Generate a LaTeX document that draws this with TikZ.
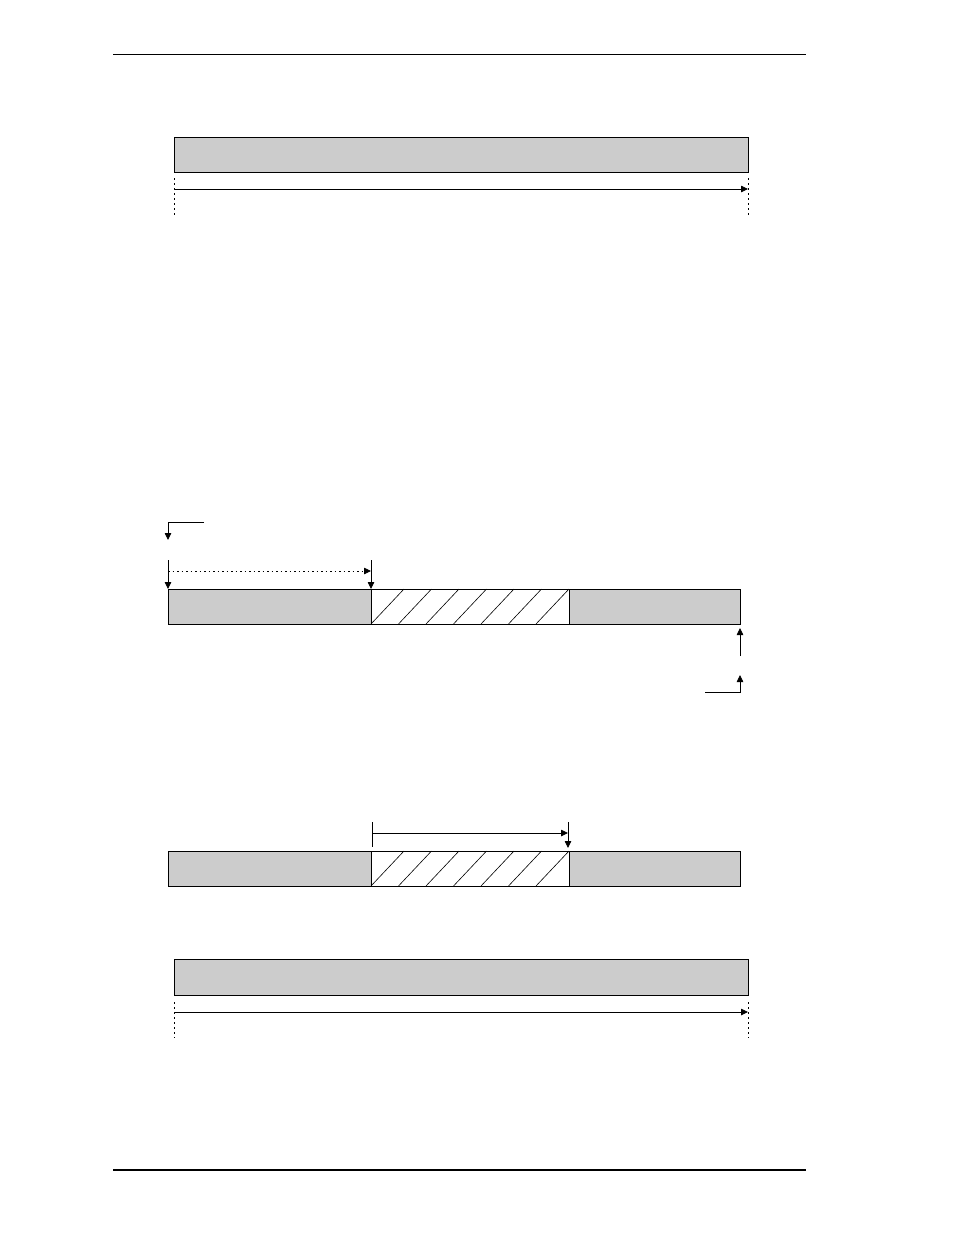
\documentclass[tikz,border=0pt]{standalone}
\usepackage{tikz}
\usetikzlibrary{arrows.meta,positioning,calc}
\definecolor{bargray}{HTML}{CCCCCC}
\tikzset{
  seg/.style={draw, line width=.8pt, fill=bargray, inner sep=0, outer sep=0,
              minimum height=35pt, anchor=north west},
  hatchseg/.style={seg, fill=white},
  tip/.style={-{Triangle[length=7pt,width=6.5pt]}, line width=.8pt},
  guide/.style={line width=.8pt, dash pattern=on 1.5pt off 3.5pt}
}

\begin{document}
\begin{tikzpicture}[x=1pt,y=-1pt]
    \useasboundingbox (0,0) rectangle (954,1235);
    % page rules
    \coordinate (r0) at (113,54);   \coordinate (r1) at (806,54);
    \coordinate (r2) at (113,1170); \coordinate (r3) at (806,1170);
    \draw[line width=1pt] (r0) -- (r1);
    \draw[line width=2pt] (r2) -- (r3);

    % top bar
    \node[seg, minimum width=574pt] (top) at (174,137) {};
    \coordinate (ta) at (174,178); \coordinate (tb) at (174,216);
    \coordinate (tc) at (748,178); \coordinate (td) at (748,216);
    \draw[guide] (ta) -- (tb);
    \draw[guide] (tc) -- (td);
    \coordinate (tl) at (174,189); \coordinate (tr) at (748,189);
    \draw[tip] (tl) -- (tr);

    % middle bar
    \node[seg, minimum width=203pt] (m1) at (168,589) {};
    \node[hatchseg, minimum width=198pt, right=0pt of m1] (m2) {};
    \node[seg, minimum width=171pt, right=0pt of m2] (m3) {};
    \foreach \i in {0,...,6}
      \draw[line width=.6pt] ($(m2.south west)+(\i*27.5,0)$) -- ++(33,-35);
    \coordinate (ms) at (204,522); \coordinate (me) at (168,540);
    \draw[tip] (ms) -| (me);
    \coordinate (mv1) at (168,560); \coordinate (mv2) at (371,560);
    \draw[tip] (mv1) -- (m1.north west);
    \draw[tip] (mv2) -- (m2.north west);
    \coordinate (md1) at (168,571); \coordinate (md2) at (371,571);
    \draw[tip, dash pattern=on 1.5pt off 3pt] (md1) -- (md2);
    \coordinate (mu) at (740,656);
    \draw[tip, shorten >=4pt] (mu) -- (m3.south east);
    \coordinate (mk1) at (705,692); \coordinate (mk2) at (740,675);
    \draw[tip] (mk1) -| (mk2);

    % lower bar
    \node[seg, minimum width=203pt] (l1) at (168,851) {};
    \node[hatchseg, minimum width=198pt, right=0pt of l1] (l2) {};
    \node[seg, minimum width=171pt, right=0pt of l2] (l3) {};
    \foreach \i in {0,...,6}
      \draw[line width=.6pt] ($(l2.south west)+(\i*27.5,0)$) -- ++(33,-35);
    \coordinate (la) at (372,822); \coordinate (lb) at (372,847);
    \coordinate (lc) at (568,822); \coordinate (ld) at (568,848);
    \coordinate (lh1) at (372,833); \coordinate (lh2) at (568,833);
    \draw[line width=.8pt] (la) -- (lb);
    \draw[tip] (lc) -- (ld);
    \draw[tip] (lh1) -- (lh2);

    % bottom bar
    \node[seg, minimum width=574pt, minimum height=36pt] (bot) at (174,959) {};
    \coordinate (ba) at (174,1002); \coordinate (bb) at (174,1038);
    \coordinate (bc) at (748,1002); \coordinate (bd) at (748,1038);
    \draw[guide] (ba) -- (bb);
    \draw[guide] (bc) -- (bd);
    \coordinate (bl) at (174,1012); \coordinate (br) at (748,1012);
    \draw[tip] (bl) -- (br);
\end{tikzpicture}
\end{document}
